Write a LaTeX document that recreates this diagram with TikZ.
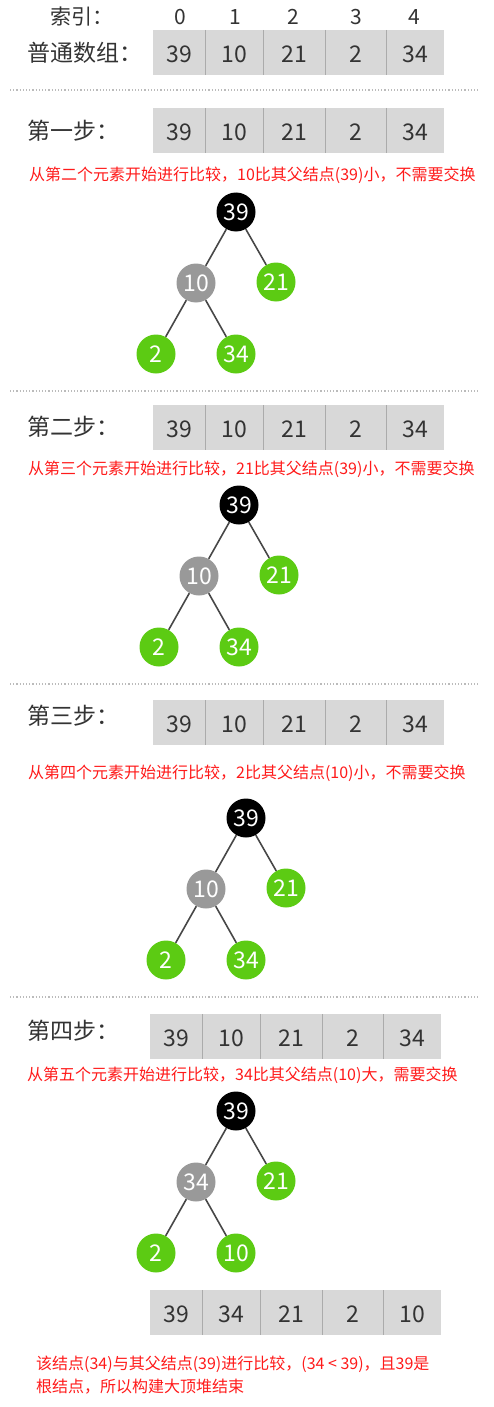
\documentclass[tikz,border=0pt]{standalone}
\usepackage{fontspec}
\setmainfont{Noto Sans CJK SC}

\definecolor{cellgray}{HTML}{D8D8D8}
\definecolor{cellline}{HTML}{ABABAB}
\definecolor{numtext}{HTML}{333333}
\definecolor{leafgreen}{HTML}{5CCB13}
\definecolor{midgray}{HTML}{999999}
\definecolor{edgegray}{HTML}{474747}
\definecolor{dotgray}{HTML}{BBBBBB}
\definecolor{notered}{HTML}{FF1A1A}

\tikzset{
  steplabel/.style={anchor=west, text=numtext, font=\fontsize{23}{23}\selectfont, inner sep=0pt},
  cellnum/.style={text=numtext, font=\fontsize{23}{23}\selectfont, inner sep=0pt},
  note/.style={anchor=west, text=notered, font=\fontsize{16}{23}\selectfont, inner sep=0pt},
  heapnode/.style={circle, minimum size=39pt, inner sep=0pt, text=white, font=\fontsize{23}{23}\selectfont},
  rootnode/.style={heapnode, fill=black},
  innode/.style={heapnode, fill=midgray},
  leafnode/.style={heapnode, fill=leafgreen},
  treeline/.style={draw=edgegray, line width=1.6pt},
  sepline/.style={dotgray, line width=1.2pt, dash pattern=on 1.2pt off 2pt},
}

% one row of array cells: prefix, xshift, top, values
\newcommand{\cellrow}[4]{%
  \begin{scope}[xshift=#2]
    \fill[cellgray] (153,#3) rectangle (444,#3+45);
    \foreach \dx in {205,263,325,386}
      \draw[cellline, line width=1pt] (\dx,#3) -- (\dx,#3+45);
    \foreach \v [count=\i] in {#4} {
      \pgfmathsetmacro{\cx}{{179,234,294,355.5,415}[\i-1]}
      \node[cellnum] (#1-\i) at (\cx,#3+24) {\v};
    }
  \end{scope}}

% heap tree: prefix, root x, root y, root, left, right, left-left, left-right
\newcommand{\maxheap}[8]{%
  \node[rootnode] (#1-r) at (#2,#3) {#4};
  \node[innode] (#1-a) at (#2-40,#3+71) {#5};
  \node[leafnode] (#1-b) at (#2+40,#3+70) {#6};
  \node[leafnode] (#1-c) at (#2-80,#3+142) {#7};
  \node[leafnode] (#1-d) at (#2,#3+142) {#8};
  \draw[treeline] (#1-r) -- (#1-a);
  \draw[treeline] (#1-r) -- (#1-b);
  \draw[treeline] (#1-a) -- (#1-c);
  \draw[treeline] (#1-a) -- (#1-d);}

\begin{document}
\begin{tikzpicture}[x=1pt, y=-1pt]
  \useasboundingbox (0,0) rectangle (493,1407);

  % header
  \node[steplabel, font=\fontsize{21}{21}\selectfont] (idxlabel) at (50,17) {索引：};
  \foreach \cx [count=\i from 0] in {180,235,293,356,414}
    \node[cellnum, font=\fontsize{21}{21}\selectfont] (idx-\i) at (\cx,17) {\i};
  \node[steplabel] (arrlabel) at (27,53) {普通数组：};
  \cellrow{arr}{0}{30}{39,10,21,2,34}
  \coordinate (sepa-l) at (10,90);
  \coordinate (sepa-r) at (480,90);
  \draw[sepline] (sepa-l) -- (sepa-r);

  % step one
  \node[steplabel] (stepa) at (27,131) {第一步：};
  \cellrow{rowa}{0}{108}{39,10,21,2,34}
  \node[note] (notea) at (29,175) {从第二个元素开始进行比较，10比其父结点(39)小，不需要交换};
  \maxheap{ta}{236}{212}{39}{10}{21}{2}{34}
  \coordinate (sepb-l) at (10,391);
  \coordinate (sepb-r) at (480,391);
  \draw[sepline] (sepb-l) -- (sepb-r);

  % step two
  \node[steplabel] (stepb) at (27,427) {第二步：};
  \cellrow{rowb}{0}{405}{39,10,21,2,34}
  \node[note] (noteb) at (28,469) {从第三个元素开始进行比较，21比其父结点(39)小，不需要交换};
  \maxheap{tb}{239}{505}{39}{10}{21}{2}{34}
  \coordinate (sepc-l) at (10,684);
  \coordinate (sepc-r) at (480,684);
  \draw[sepline] (sepc-l) -- (sepc-r);

  % step three
  \node[steplabel] (stepc) at (27,716) {第三步：};
  \cellrow{rowc}{0}{700}{39,10,21,2,34}
  \node[note] (notec) at (28,773) {从第四个元素开始进行比较，2比其父结点(10)小，不需要交换};
  \maxheap{tc}{246}{818}{39}{10}{21}{2}{34}
  \coordinate (sepd-l) at (10,997);
  \coordinate (sepd-r) at (480,997);
  \draw[sepline] (sepd-l) -- (sepd-r);

  % step four
  \node[steplabel] (stepd) at (27,1031) {第四步：};
  \cellrow{rowd}{-3}{1014}{39,10,21,2,34}
  \node[note] (noted) at (27,1075) {从第五个元素开始进行比较，34比其父结点(10)大，需要交换};
  \maxheap{td}{236}{1111}{39}{34}{21}{2}{10}
  \cellrow{rowe}{-3}{1290}{39,34,21,2,10}
  \node[note, align=left] (notee) at (36,1375) {该结点(34)与其父结点(39)进行比较，(34 < 39)，且39是\\根结点，所以构建大顶堆结束};
\end{tikzpicture}
\end{document}
